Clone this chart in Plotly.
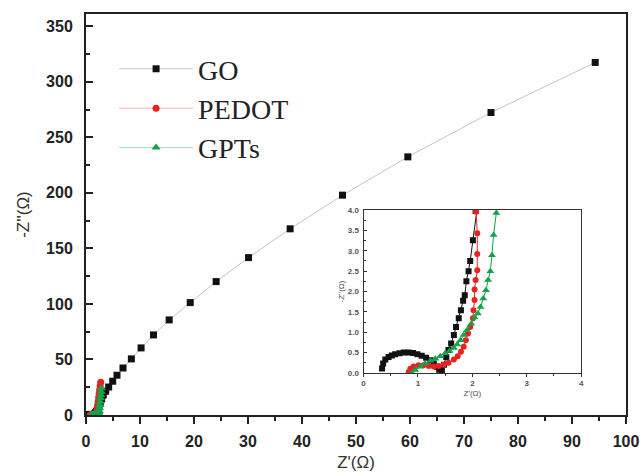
import plotly.graph_objects as go

# ---- data (Z' in ohm, -Z'' in ohm) ----
go_x = [0.34, 0.36, 0.40, 0.46, 0.52, 0.58, 0.66, 0.74, 0.83, 0.91, 0.99, 1.07, 1.15, 1.23, 1.29, 1.35,
        1.39, 1.44, 1.48, 1.52, 1.56, 1.61, 1.66, 1.70, 1.75, 1.79, 1.83, 1.86, 1.89, 1.93, 1.96, 2.01, 2.06,
        2.2, 2.4, 2.65, 2.9, 3.2, 3.65, 4.2, 4.94, 5.74, 6.85, 8.4, 10.2, 12.5, 15.4, 19.3, 24.1, 30.1,
        37.8, 47.5, 59.6, 75.0, 94.3]
go_y = [0.11, 0.23, 0.33, 0.39, 0.43, 0.46, 0.48, 0.50, 0.50, 0.49, 0.46, 0.42, 0.37, 0.31, 0.23, 0.15,
        0.08, 0.06, 0.20, 0.39, 0.56, 0.72, 0.93, 1.13, 1.34, 1.54, 1.77, 1.91, 2.25, 2.50, 2.75, 3.26, 3.98,
        6.0, 8.5, 11.5, 14.5, 18.0, 21.4, 25.2, 30.4, 35.8, 42.3, 50.5, 60.4, 72.1, 85.6, 101.2, 120.1, 141.7,
        167.6, 197.9, 232.4, 272.3, 317.4]

pedot_x = [0.83, 0.86, 0.92, 1.01, 1.10, 1.20, 1.29, 1.38, 1.47, 1.56, 1.66, 1.73, 1.79, 1.84, 1.88, 1.92,
           1.96, 2.01, 2.02, 2.04, 2.04, 2.06, 2.09, 2.09, 2.09, 2.07,
           2.12, 2.18, 2.25, 2.33, 2.42, 2.52, 2.62, 2.72]
pedot_y = [0.02, 0.10, 0.16, 0.19, 0.19, 0.17, 0.16, 0.17, 0.20, 0.25, 0.33, 0.41, 0.52, 0.64, 0.80, 0.97,
           1.13, 1.34, 1.54, 1.79, 2.05, 2.28, 2.52, 2.92, 3.43, 3.96,
           6.0, 9.0, 12.0, 15.5, 19.0, 22.5, 26.0, 29.5]

gpts_x = [0.89, 0.95, 1.04, 1.13, 1.23, 1.32, 1.41, 1.50, 1.58, 1.66, 1.72, 1.78, 1.84, 1.90, 1.98, 2.04,
          2.10, 2.15, 2.20, 2.25, 2.29, 2.33, 2.36, 2.39, 2.44,
          2.50, 2.56, 2.62, 2.68, 2.74, 2.80, 2.86]
gpts_y = [0.00, 0.07, 0.15, 0.23, 0.30, 0.35, 0.41, 0.48, 0.54, 0.61, 0.70, 0.80, 0.93, 1.05, 1.21, 1.36,
          1.46, 1.62, 1.83, 2.03, 2.28, 2.50, 2.89, 3.39, 3.93,
          6.0, 9.0, 12.0, 15.0, 18.0, 21.0, 24.0]

series_names = ["GO", "PEDOT", "GPTs"]
marker_colors = ["#111111", "#e8231f", "#14a24a"]
line_colors_main = ["#c4c4c4", "#f2b0ae", "#a8dcb9"]
symbols = ["square", "circle", "triangle-up"]
xs = [go_x, pedot_x, gpts_x]
ys = [go_y, pedot_y, gpts_y]

fig = go.Figure()

# main plot traces
for name, x, y, mc, lc, sym in zip(series_names, xs, ys, marker_colors, line_colors_main, symbols):
    fig.add_trace(go.Scatter(
        x=x, y=y, name=name, mode="lines+markers",
        line=dict(color=lc, width=1),
        marker=dict(symbol=sym, color=mc, size=7 if sym != "triangle-up" else 8),
        xaxis="x", yaxis="y",
    ))

# inset traces
for name, x, y, mc, sym in zip(series_names, xs, ys, marker_colors, symbols):
    fig.add_trace(go.Scatter(
        x=x, y=y, name=name, mode="lines+markers", showlegend=False,
        line=dict(color=mc, width=1),
        marker=dict(symbol=sym, color=mc, size=6 if sym != "triangle-up" else 7),
        xaxis="x2", yaxis="y2",
    ))

tick_font = dict(family="Liberation Sans, Arial", size=16, color="#222222", weight="bold")
inset_font = dict(family="Liberation Sans, Arial", size=8, color="#555555", weight="bold")

fig.update_layout(
    width=640, height=472,
    margin=dict(l=86, r=14, t=14, b=57, autoexpand=False),
    paper_bgcolor="white", plot_bgcolor="white",
    showlegend=True,
    legend=dict(
        x=0.052, y=0.925, xanchor="left", yanchor="top",
        bgcolor="rgba(0,0,0,0)",
        font=dict(family="Liberation Serif, Times New Roman", size=28, color="#222222"),
        itemwidth=74, tracegroupgap=0,
    ),
    xaxis=dict(
        domain=[0, 1], range=[0, 100], dtick=10, tick0=0, automargin=False,
        showgrid=False, zeroline=False,
        showline=True, linecolor="#222222", linewidth=2, mirror=True,
        ticks="outside", ticklen=7, tickwidth=2, tickcolor="#222222",
        minor=dict(dtick=5, ticks="outside", ticklen=4, tickwidth=1.5, tickcolor="#222222"),
        tickfont=tick_font, ticklabelstandoff=4,
        title=dict(text="Z'(Ω)", font=dict(family="Liberation Sans, Arial", size=17, color="#333333"), standoff=10),
    ),
    yaxis=dict(
        domain=[0, 1], range=[0, 361], dtick=50, tick0=0, automargin=False,
        showgrid=False, zeroline=False,
        showline=True, linecolor="#222222", linewidth=2, mirror=True,
        ticks="inside", ticklen=7, tickwidth=2, tickcolor="#222222",
        minor=dict(dtick=25, ticks="inside", ticklen=4, tickwidth=1.5, tickcolor="#222222"),
        tickfont=tick_font, ticklabelstandoff=8,
        title=dict(text="-Z''(Ω)", font=dict(family="Liberation Sans, Arial", size=17, color="#333333"), standoff=12),
    ),
    xaxis2=dict(
        domain=[0.514, 0.917], anchor="y2", range=[0, 4], dtick=1, tick0=0, automargin=False,
        showgrid=False, zeroline=False,
        showline=True, linecolor="#333333", linewidth=1, mirror=True,
        ticks="outside", ticklen=3, tickwidth=1, tickcolor="#333333",
        minor=dict(dtick=0.5, ticks="outside", ticklen=2, tickwidth=1, tickcolor="#333333"),
        tickfont=inset_font, ticklabelstandoff=0,
        title=dict(text="Z'(Ω)", font=dict(family="Liberation Sans, Arial", size=8, color="#555555"), standoff=2),
    ),
    yaxis2=dict(
        domain=[0.105, 0.511], anchor="x2", range=[0, 4], dtick=0.5, tick0=0, tickformat=".1f", automargin=False,
        showgrid=False, zeroline=False,
        showline=True, linecolor="#333333", linewidth=1, mirror=True,
        ticks="inside", ticklen=3, tickwidth=1, tickcolor="#333333",
        minor=dict(dtick=0.25, ticks="inside", ticklen=2, tickwidth=1, tickcolor="#333333"),
        tickfont=inset_font, ticklabelstandoff=2,
        title=dict(text="-Z''(Ω)", font=dict(family="Liberation Sans, Arial", size=8, color="#555555"), standoff=2),
    ),
)

fig.write_html("out.html")
